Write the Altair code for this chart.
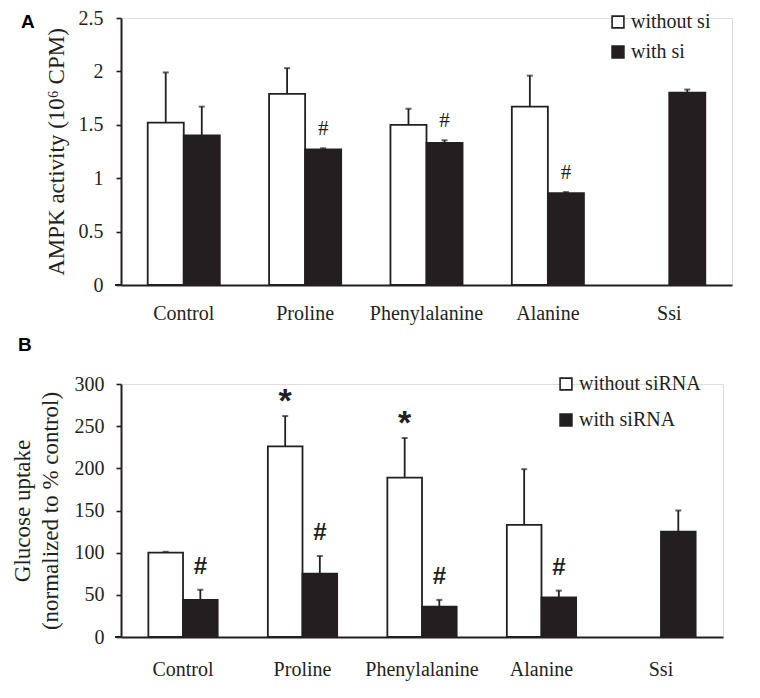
import altair as alt
import pandas as pd

categories = ["Control", "Proline", "Phenylalanine", "Alanine", "Ssi"]

# Panel A: AMPK activity (10^6 CPM)
a_legend = ["without si", "with si"]
a_without = [1.52, 1.79, 1.50, 1.67, None]
a_without_err = [0.47, 0.24, 0.15, 0.29, None]
a_with = [1.40, 1.27, 1.33, 0.86, 1.80]
a_with_err = [0.27, 0.01, 0.025, 0.01, 0.03]
a_without_mark = ["", "", "", "", ""]
a_with_mark = ["", "#", "#", "#", ""]

# Panel B: Glucose uptake (normalized to % control)
b_legend = ["without siRNA", "with siRNA"]
b_without = [100, 226, 189, 133, None]
b_without_err = [1, 36, 47, 66, None]
b_with = [44, 75, 36, 47, 125]
b_with_err = [12, 21, 8, 8, 25]
b_without_mark = ["", "*", "*", "", ""]
b_with_mark = ["#", "#", "#", "#", ""]

INK = "#231f20"
SERIF = "Liberation Serif"
SANS = "Liberation Sans"


def build_df(labels, wo, wo_err, wi, wi_err, wo_mark, wi_mark):
    rows = []
    for i, c in enumerate(categories):
        for lab, v, e, m in ((labels[0], wo[i], wo_err[i], wo_mark[i]),
                             (labels[1], wi[i], wi_err[i], wi_mark[i])):
            rows.append({
                "cat": c, "grp": lab, "value": v, "err": e,
                "top": (v + e) if v is not None else None, "mark": m,
            })
    return pd.DataFrame(rows)


def panel(df, labels, ymax, yvals, ytitle, width, height, pin, pout,
          lab_pad, ylab_pad, title_pad, legend_x, legend_y, row_pad, letter, lx, ly,
          hash_font, hash_size, hash_weight, hash_dy, star_size, star_dy):
    xenc = alt.X("cat:N", sort=categories,
                 scale=alt.Scale(paddingInner=pin, paddingOuter=pout),
                 axis=alt.Axis(title=None, labelAngle=0, ticks=False, labelPadding=lab_pad,
                               labelFont=SERIF, labelFontSize=20, labelColor=INK,
                               domainColor=INK, domainWidth=2))
    xoff = alt.XOffset("grp:N", sort=labels,
                       scale=alt.Scale(domain=labels, paddingInner=0, paddingOuter=0))
    base = alt.Chart(df).encode(x=xenc, xOffset=xoff)
    yscale = alt.Scale(domain=[0, ymax], nice=False, zero=True)
    yaxis = alt.Axis(title=ytitle, values=yvals, labelExpr="datum.value + ''", grid=False,
                     tickSize=5, tickWidth=1.6, tickColor=INK,
                     domainColor=INK, domainWidth=2,
                     labelFont=SERIF, labelFontSize=20, labelColor=INK, labelPadding=ylab_pad,
                     titleFont=SERIF, titleFontSize=23, titleFontWeight="normal",
                     titleColor=INK, titlePadding=title_pad, titleLineHeight=28)
    bars = base.mark_bar(stroke=INK, strokeWidth=1.8).encode(
        y=alt.Y("value:Q", scale=yscale, axis=yaxis),
        fill=alt.Fill("grp:N", sort=labels,
                      scale=alt.Scale(domain=labels, range=["white", INK]),
                      legend=alt.Legend(title=None, orient="none", legendX=legend_x, legendY=legend_y,
                                        symbolType="square", symbolSize=140,
                                        symbolStrokeColor=INK, symbolStrokeWidth=1.6,
                                        labelFont=SERIF, labelFontSize=20, labelColor=INK,
                                        labelOffset=3, rowPadding=row_pad)),
    )
    rules = base.mark_rule(color=INK, strokeWidth=1.8).encode(
        y=alt.Y("value:Q", scale=yscale, axis=yaxis), y2="top:Q")
    caps = base.mark_tick(color=INK, size=6, thickness=2).encode(
        y=alt.Y("top:Q", scale=yscale, axis=yaxis))
    hashes = base.transform_filter(alt.datum.mark == "#").mark_text(
        font=hash_font, fontSize=hash_size, fontWeight=hash_weight, color=INK,
        baseline="alphabetic", dy=hash_dy).encode(
        y=alt.Y("top:Q", scale=yscale, axis=yaxis), text="mark:N")
    stars = base.transform_filter(alt.datum.mark == "*").mark_text(
        font=SANS, fontSize=star_size, fontWeight="bold", color=INK,
        baseline="alphabetic", dy=star_dy).encode(
        y=alt.Y("top:Q", scale=yscale, axis=yaxis), text="mark:N")
    # short extension of the baseline to the left of the y axis
    stub = alt.Chart(pd.DataFrame({"z": [0]})).mark_rule(color=INK, strokeWidth=2).encode(
        y=alt.Y("z:Q", scale=yscale, axis=yaxis), x=alt.value(-6), x2=alt.value(0))
    letter_layer = alt.Chart(pd.DataFrame({"t": [letter]})).mark_text(
        font=SANS, fontSize=19, fontWeight="bold", color="black",
        align="left", baseline="middle").encode(
        x=alt.value(lx), y=alt.value(ly), text="t:N")
    return alt.layer(bars, rules, caps, hashes, stars, stub, letter_layer).properties(
        width=width, height=height)


df_a = build_df(a_legend, a_without, a_without_err, a_with, a_with_err, a_without_mark, a_with_mark)
df_b = build_df(b_legend, b_without, b_without_err, b_with, b_with_err, b_without_mark, b_with_mark)

chart_a = panel(df_a, a_legend, 2.5, [0, 0.5, 1, 1.5, 2, 2.5], "AMPK activity (10⁶ CPM)",
                611, 267, 0.406, 0.22, 18, 13, 10, 487, -6, 10, "A", -100, 4,
                SERIF, 21, "normal", -13, 32, -4)
chart_b = panel(df_b, b_legend, 300, [0, 50, 100, 150, 200, 250, 300],
                ["Glucose uptake", "(normalized to % control)"],
                602, 253, 0.42, 0.229, 22, 12, 12, 435, -10, 16, "B", -103, -39,
                SANS, 24, "bold", -16, 34, -4)

chart = alt.vconcat(chart_a, chart_b, spacing=11).resolve_scale(
    x="independent", y="independent", xOffset="independent", fill="independent"
).resolve_legend(fill="independent").resolve_axis(x="independent", y="independent").properties(
    padding={"left": 2, "top": -1, "right": 5, "bottom": 5}
).configure_view(stroke=None).configure(background="white")

chart.save("out.html", embed_options={"renderer": "svg", "actions": False})
